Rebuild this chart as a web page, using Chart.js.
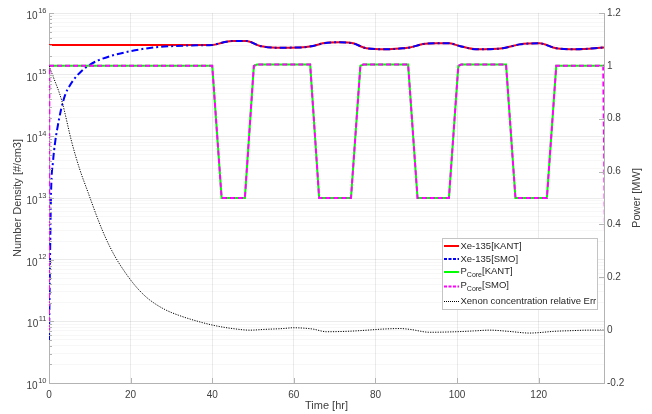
<!DOCTYPE html>
<html><head><meta charset="utf-8">
<script src="https://cdn.jsdelivr.net/npm/chart.js@4.4.1/dist/chart.umd.min.js"></script>
<style>html,body{margin:0;padding:0;background:#fff;} #wrap{width:652px;height:414px;position:relative;}</style>
</head><body><div id="wrap"><canvas id="c" width="652" height="414"></canvas></div>
<script>
// ---------- data ----------
const xTicks = [0, 20, 40, 60, 80, 100, 120];
const rightTicks = [-0.2, 0, 0.2, 0.4, 0.6, 0.8, 1, 1.2];
const leftDecades = [10, 11, 12, 13, 14, 15, 16];

const xeTime = [0, 0.25, 0.5, 1, 1.5, 2, 3, 4, 5, 6, 8, 10, 12, 15, 18, 22, 26, 30, 35, 40,
  42.6, 45, 48.4, 51.7, 55.7, 61.4, 64.7, 67.1, 71.2, 74.5, 77.8, 82.7, 86.7, 88.4, 91.6, 95, 98.2,
  100.6, 104.7, 111.2, 115.3, 120.2, 124.3, 129.2, 136];
const xeSmo = [5e10, 1e12, 1.2e13, 4e13, 8e13, 1.3e14, 2.8e14, 4.8e14, 6.5e14, 8.2e14, 1.15e15, 1.45e15,
  1.7e15, 2.0e15, 2.25e15, 2.55e15, 2.78e15, 2.9e15, 2.98e15, 3.03e15,
  3.33e15, 3.52e15, 3.52e15, 2.92e15, 2.74e15, 2.76e15, 2.92e15, 3.22e15, 3.35e15, 3.22e15, 2.68e15,
  2.58e15, 2.68e15, 2.75e15, 3.14e15, 3.24e15, 3.22e15, 2.92e15, 2.58e15, 2.68e15, 3.10e15, 3.22e15,
  2.68e15, 2.58e15, 2.76e15];
const xeKant = [3.03e15, 3.03e15, 3.03e15, 3.03e15, 3.03e15, 3.03e15, 3.03e15, 3.03e15, 3.03e15, 3.03e15,
  3.03e15, 3.03e15, 3.03e15, 3.03e15, 3.03e15, 3.03e15, 3.03e15, 3.03e15, 3.03e15, 3.03e15,
  3.33e15, 3.52e15, 3.52e15, 2.92e15, 2.74e15, 2.76e15, 2.92e15, 3.22e15, 3.35e15, 3.22e15, 2.68e15,
  2.58e15, 2.68e15, 2.75e15, 3.14e15, 3.24e15, 3.22e15, 2.92e15, 2.58e15, 2.68e15, 3.10e15, 3.22e15,
  2.68e15, 2.58e15, 2.76e15];

const powerTime = [0, 0.1, 40, 42.3, 48, 50.2, 51, 64, 66.2, 74, 76.3, 77, 88, 90.3, 98, 100.3, 101,
  112, 114.3, 122, 124.3, 125, 135.8, 136.5];
const powerKant = [1, 1, 1, 0.5, 0.5, 1.0, 1.005, 1.005, 0.5, 0.5, 1.0, 1.005, 1.005, 0.5, 0.5, 1.0, 1.005,
  1.005, 0.5, 0.5, 1.0, 1.0, 1.0, 1.0];
const powerSmo = [0, 1, 1, 0.5, 0.5, 1.0, 1.005, 1.005, 0.5, 0.5, 1.0, 1.005, 1.005, 0.5, 0.5, 1.0, 1.005,
  1.005, 0.5, 0.5, 1.0, 1.0, 1.0, 0];

const errTime = [0, 1, 3.1, 5.6, 7.5, 9.6, 12.1, 14, 16.2, 18.5, 20.6, 22.6, 24.7, 28.4, 32, 37, 41, 45, 49.2,
  53, 57.3, 59.8, 62, 64.7, 68, 73.7, 78, 81.8, 86, 88.4, 93.3, 99.8, 104, 108, 112.9, 117.7, 124.3,
  128, 132.4, 136];
const errVal = [1.0, 0.96, 0.87, 0.71, 0.61, 0.52, 0.415, 0.345, 0.278, 0.222, 0.178, 0.143, 0.114, 0.078, 0.055,
  0.031, 0.016, 0.006, 0.0, 0.003, 0.006, 0.009, 0.008, 0.004, -0.006, -0.004, 0.0, 0.004, 0.006, 0.003,
  -0.008, -0.006, -0.003, 0.0, -0.005, -0.011, -0.004, -0.002, 0.0, 0.0];

const legendItems = [
  {main: 'Xe-135', sub: '', rest: '[KANT]'},
  {main: 'Xe-135', sub: '', rest: '[SMO]'},
  {main: 'P', sub: 'Core', rest: '[KANT]'},
  {main: 'P', sub: 'Core', rest: '[SMO]'},
  {main: 'Xenon concentration relative Err', sub: '', rest: ''}
];

// ---------- chart ----------
const FONT = '"Liberation Sans", Arial, Helvetica, sans-serif';
const axisColor = '#b3b3b3';
const textColor = '#404040';
const toXY = (xs, ys) => xs.map((x, i) => ({x: x, y: ys[i]}));
const isDecade = v => Math.abs(Math.log10(v) - Math.round(Math.log10(v))) < 1e-9;

const styles = [
  {color: '#ff0000', width: 2, dash: []},
  {color: '#0000ff', width: 2, dash: [7, 3, 2, 3]},
  {color: '#00ff00', width: 2, dash: []},
  {color: '#ff00ff', width: 2, dash: [5, 3]},
  {color: '#000000', width: 1, dash: [1.2, 1.3]}
];

const customPlugin = {
  id: 'customPlugin',
  afterDraw(chart) {
    const ctx = chart.ctx, a = chart.chartArea;
    const xs = chart.scales.x, yl = chart.scales.yL, yr = chart.scales.yR;
    ctx.save();
    // inward tick marks
    ctx.strokeStyle = axisColor; ctx.lineWidth = 1; ctx.setLineDash([]);
    ctx.beginPath();
    xTicks.forEach(v => { const p = Math.round(xs.getPixelForValue(v)) + 0.5; ctx.moveTo(p, a.bottom); ctx.lineTo(p, a.bottom - 5); });
    yl.ticks.forEach(t => { const p = Math.round(yl.getPixelForValue(t.value)) + 0.5; ctx.moveTo(a.left, p); ctx.lineTo(a.left + (isDecade(t.value) ? 5 : 3), p); });
    rightTicks.forEach(v => { const p = Math.round(yr.getPixelForValue(v)) + 0.5; ctx.moveTo(a.right, p); ctx.lineTo(a.right - 5, p); });
    ctx.stroke();

    // left log labels with superscripts
    ctx.fillStyle = textColor;
    ctx.textBaseline = 'alphabetic';
    ctx.textAlign = 'left';
    leftDecades.forEach(d => {
      const y = yl.getPixelForValue(Math.pow(10, d));
      ctx.font = '10px ' + FONT;
      const w1 = ctx.measureText('10').width;
      ctx.font = '7.5px ' + FONT;
      const w2 = ctx.measureText(String(d)).width;
      const x0 = 46 - w1 - w2;
      ctx.font = '10px ' + FONT;
      ctx.fillText('10', x0, y + 6);
      ctx.font = '7.5px ' + FONT;
      ctx.fillText(String(d), x0 + w1 + 0.5, y - 0.5);
    });

    // axis titles
    ctx.font = '11px ' + FONT;
    ctx.textAlign = 'center'; ctx.textBaseline = 'middle';
    ctx.fillText('Time [hr]', (a.left + a.right) / 2, 406);
    ctx.save(); ctx.translate(18, (a.top + a.bottom) / 2); ctx.rotate(-Math.PI / 2);
    ctx.fillText('Number Density [#/cm3]', 0, 0); ctx.restore();
    ctx.save(); ctx.translate(637, (a.top + a.bottom) / 2); ctx.rotate(-Math.PI / 2);
    ctx.fillText('Power [MW]', 0, 0); ctx.restore();

    // legend
    const bx = 442.5, by = 238.5, bw = 155, bh = 71;
    ctx.fillStyle = '#ffffff'; ctx.fillRect(bx, by, bw, bh);
    ctx.strokeStyle = '#c4c4c4'; ctx.lineWidth = 1; ctx.strokeRect(bx, by, bw, bh);
    const rows = [246, 259, 272, 286.5, 301.5];
    legendItems.forEach((it, i) => {
      const st = styles[i], y = rows[i];
      ctx.strokeStyle = st.color; ctx.lineWidth = st.width; ctx.setLineDash(st.dash.length ? (i === 4 ? [1, 1] : [3, 1.5]) : []);
      ctx.beginPath(); ctx.moveTo(444, y); ctx.lineTo(459, y); ctx.stroke();
      ctx.setLineDash([]);
      ctx.fillStyle = '#262626'; ctx.textAlign = 'left'; ctx.textBaseline = 'middle';
      let x = 460.5;
      const ty = it.sub ? y - 1 : y;
      ctx.font = '9.5px ' + FONT;
      ctx.fillText(it.main, x, ty); x += ctx.measureText(it.main).width;
      if (it.sub) {
        ctx.font = '7px ' + FONT;
        ctx.fillText(it.sub, x, ty + 4); x += ctx.measureText(it.sub).width;
      }
      if (it.rest) {
        ctx.font = '9.5px ' + FONT;
        ctx.fillText(it.rest, x, ty);
      }
    });
    ctx.restore();
  }
};

const mk = (label, data, st, axis, order, smooth) => ({
  label: label, data: data, yAxisID: axis, order: order,
  borderColor: st.color, backgroundColor: st.color, borderWidth: st.width, borderDash: st.dash,
  pointRadius: 0, fill: false, tension: 0,
  cubicInterpolationMode: smooth ? 'monotone' : 'default'
});

new Chart(document.getElementById('c'), {
  type: 'line',
  data: {
    datasets: [
      mk('Xe-135[KANT]', toXY(xeTime, xeKant), styles[0], 'yL', 4, true),
      mk('Xe-135[SMO]', toXY(xeTime, xeSmo), styles[1], 'yL', 3, true),
      mk('P_Core[KANT]', toXY(powerTime, powerKant), styles[2], 'yR', 2, false),
      mk('P_Core[SMO]', toXY(powerTime, powerSmo), styles[3], 'yR', 1, false),
      mk('Xenon concentration relative Err', toXY(errTime, errVal), styles[4], 'yR', 0, true)
    ]
  },
  options: {
    responsive: false, animation: false, devicePixelRatio: 1,
    layout: {padding: {top: 13, left: 0, right: 0, bottom: 0}},
    plugins: {legend: {display: false}, tooltip: {enabled: false}},
    scales: {
      x: {
        type: 'linear', min: 0, max: 136,
        afterBuildTicks: s => { s.ticks = xTicks.map(v => ({value: v})); },
        afterFit: s => { s.height = 31; },
        grid: {color: 'rgba(0,0,0,0.08)', drawTicks: false},
        border: {color: axisColor},
        ticks: {autoSkip: false, maxRotation: 0, padding: 6, color: textColor, font: {family: FONT, size: 10},
          callback: v => String(v)}
      },
      yL: {
        type: 'logarithmic', position: 'left', min: 1e10, max: 1e16,
        afterBuildTicks: s => {
          const t = [];
          for (let d = 10; d < 16; d++) for (let m = 1; m < 10; m++) t.push({value: m * Math.pow(10, d), major: m === 1});
          t.push({value: 1e16, major: true});
          s.ticks = t;
        },
        afterFit: s => { s.width = 49; },
        grid: {drawTicks: false, color: c => (c.tick && isDecade(c.tick.value)) ? 'rgba(0,0,0,0.08)' : 'rgba(0,0,0,0.03)'},
        border: {color: axisColor},
        ticks: {display: false, autoSkip: false}
      },
      yR: {
        type: 'linear', position: 'right', min: -0.2, max: 1.2,
        afterBuildTicks: s => { s.ticks = rightTicks.map(v => ({value: v})); },
        afterFit: s => { s.width = 48; },
        grid: {drawOnChartArea: false, drawTicks: false},
        border: {color: axisColor},
        ticks: {autoSkip: false, padding: 3, color: textColor, font: {family: FONT, size: 10},
          callback: v => String(Math.round(v * 10) / 10)}
      }
    }
  },
  plugins: [customPlugin]
});
</script>
</body></html>
